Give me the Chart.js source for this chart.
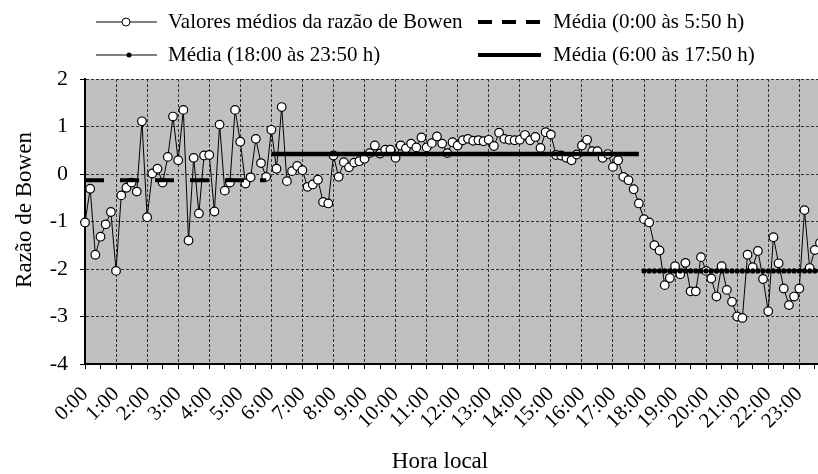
<!DOCTYPE html>
<html>
<head>
  <title>Razão de Bowen</title>
  <script src="https://cdn.jsdelivr.net/npm/chart.js"></script>
  <style>
    html, body {
      margin: 0;
      padding: 0;
      background: #fff;
      overflow: hidden;
    }

    #frame {
      width: 818px;
      height: 474px;
      overflow: hidden;
    }

    #wrap {
      width: 856px;
      height: 474px;
      position: relative;
    }
  </style>
</head>
<body>
  <div id="frame">
    <div id="wrap">
      <canvas id="bowenChart"></canvas>
    </div>
  </div>

  <script>
    // 10-minute steps, 0:00 .. 23:50
    const timeLabels = [];
    for (let h = 0; h < 24; h++) {
      for (let m = 0; m < 60; m += 10) {
        timeLabels.push(h + ":" + (m < 10 ? "0" + m : m));
      }
    }

    const bowenValues = [
      -1.02, -0.31, -1.70, -1.32, -1.06, -0.80, -2.04, -0.45, -0.29, -0.18, -0.37, 1.11,
      -0.91, 0.01, 0.11, -0.18, 0.36, 1.21, 0.29, 1.35, -1.40, 0.34, -0.83, 0.39,
      0.40, -0.79, 1.04, -0.35, -0.18, 1.35, 0.68, -0.20, -0.07, 0.74, 0.23, -0.06,
      0.93, 0.11, 1.41, -0.15, 0.06, 0.17, 0.08, -0.27, -0.22, -0.12, -0.59, -0.62,
      0.39, -0.06, 0.25, 0.14, 0.24, 0.27, 0.32, 0.44, 0.60, 0.43, 0.51, 0.51,
      0.34, 0.60, 0.54, 0.64, 0.56, 0.77, 0.56, 0.65, 0.79, 0.64, 0.44, 0.67,
      0.60, 0.71, 0.74, 0.70, 0.71, 0.69, 0.72, 0.59, 0.87, 0.74, 0.72, 0.71,
      0.72, 0.82, 0.71, 0.78, 0.55, 0.88, 0.83, 0.40, 0.39, 0.34, 0.29, 0.41,
      0.60, 0.72, 0.48, 0.48, 0.34, 0.42, 0.15, 0.29, -0.06, -0.13, -0.32, -0.62,
      -0.95, -1.02, -1.50, -1.61, -2.34, -2.19, -1.94, -2.11, -1.87, -2.47, -2.47, -1.75,
      -2.04, -2.20, -2.58, -1.94, -2.44, -2.69, -3.00, -3.03, -1.70, -1.96, -1.62, -2.21,
      -2.89, -1.33, -1.88, -2.41, -2.76, -2.58, -2.41, -0.76, -1.98, -1.60, -1.45, -1.40
    ];

    // period means
    const meanNight = -0.13;    // 0:00 - 5:50
    const meanDay = 0.42;       // 6:00 - 17:50
    const meanEvening = -2.04;  // 18:00 - 23:50

    const nightSeries = timeLabels.map((t, i) => i < 36 ? meanNight : null);
    const daySeries = timeLabels.map((t, i) => i >= 36 && i < 108 ? meanDay : null);
    const eveningSeries = timeLabels.map((t, i) => i >= 108 ? meanEvening : null);

    const FONT = "'Liberation Serif', 'Times New Roman', serif";

    const legendAndTitles = {
      id: "legendAndTitles",
      afterDraw(chart) {
        const ctx = chart.ctx;
        ctx.save();
        ctx.fillStyle = "#000";
        ctx.strokeStyle = "#000";
        ctx.font = "21px " + FONT;
        ctx.textBaseline = "middle";
        ctx.textAlign = "left";

        // row 1, col 1: data series
        ctx.lineWidth = 1;
        ctx.beginPath();
        ctx.moveTo(96, 22);
        ctx.lineTo(157, 22);
        ctx.stroke();
        ctx.beginPath();
        ctx.arc(126, 22, 4, 0, Math.PI * 2);
        ctx.fillStyle = "#fff";
        ctx.fill();
        ctx.stroke();
        ctx.fillStyle = "#000";
        ctx.fillText("Valores médios da razão de Bowen", 168, 22);

        // row 2, col 1: evening mean
        ctx.beginPath();
        ctx.moveTo(96, 55);
        ctx.lineTo(157, 55);
        ctx.stroke();
        ctx.beginPath();
        ctx.arc(129, 55, 2.5, 0, Math.PI * 2);
        ctx.fill();
        ctx.fillText("Média (18:00 às 23:50 h)", 168, 55);

        // row 1, col 2: night mean (dashed)
        ctx.lineWidth = 4;
        ctx.setLineDash([14, 10]);
        ctx.beginPath();
        ctx.moveTo(478, 22);
        ctx.lineTo(541, 22);
        ctx.stroke();
        ctx.setLineDash([]);
        ctx.fillText("Média (0:00 às 5:50 h)", 553, 22);

        // row 2, col 2: day mean (solid)
        ctx.beginPath();
        ctx.moveTo(478, 55);
        ctx.lineTo(541, 55);
        ctx.stroke();
        ctx.fillText("Média (6:00 às 17:50 h)", 553, 55);

        // axis titles
        ctx.font = "23px " + FONT;
        ctx.textAlign = "center";
        ctx.fillText("Hora local", 440, 462);
        ctx.translate(25, 210);
        ctx.rotate(-Math.PI / 2);
        ctx.fillText("Razão de Bowen", 0, 0);
        ctx.restore();
      }
    };

    const ctx = document.getElementById("bowenChart").getContext("2d");
    new Chart(ctx, {
      type: "line",
      data: {
        labels: timeLabels,
        datasets: [
          {
            label: "Média (0:00 às 5:50 h)",
            data: nightSeries,
            borderColor: "#000",
            borderWidth: 4,
            borderDash: [19, 16],
            borderCapStyle: "butt",
            pointRadius: 0,
            order: 0
          },
          {
            label: "Média (6:00 às 17:50 h)",
            data: daySeries,
            borderColor: "#000",
            borderWidth: 4.5,
            borderCapStyle: "butt",
            pointRadius: 0,
            order: 0
          },
          {
            label: "Média (18:00 às 23:50 h)",
            data: eveningSeries,
            borderColor: "#000",
            borderWidth: 1,
            pointRadius: 2.6,
            pointBackgroundColor: "#000",
            pointBorderWidth: 0,
            order: 0
          },
          {
            label: "Valores médios da razão de Bowen",
            data: bowenValues,
            borderColor: "#000",
            borderWidth: 1,
            pointRadius: 4.3,
            pointBackgroundColor: "#fff",
            pointBorderColor: "#000",
            pointBorderWidth: 1.2,
            order: 1
          }
        ]
      },
      options: {
        responsive: true,
        maintainAspectRatio: false,
        animation: false,
        layout: {
          padding: { top: 79, right: 8, bottom: 0, left: 0 }
        },
        plugins: {
          legend: { display: false },
          tooltip: { enabled: false }
        },
        scales: {
          x: {
            offset: false,
            afterFit(scale) {
              scale.height = 110;
            },
            grid: {
              color: c => c.index % 6 === 0 && c.index > 0 ? "#333" : "transparent",
              tickColor: c => c.index % 3 === 0 ? "#000" : "transparent",
              tickLength: 5,
              lineWidth: 1
            },
            border: { color: "#000", width: 2, dash: [3, 2] },
            ticks: {
              autoSkip: false,
              minRotation: 45,
              maxRotation: 45,
              padding: 13,
              color: "#000",
              font: { family: FONT, size: 21 },
              callback(value, index) {
                return index % 6 === 0 ? this.getLabelForValue(value) : "";
              }
            }
          },
          y: {
            min: -4,
            max: 2,
            afterFit(scale) {
              scale.width = 85;
            },
            grid: {
              color: c => Number.isInteger(c.tick.value) ? "#333" : "transparent",
              tickColor: "#000",
              tickLength: 5,
              lineWidth: 1
            },
            border: { color: "#000", width: 2, dash: [3, 2] },
            ticks: {
              stepSize: 0.5,
              padding: 12,
              color: "#000",
              font: { family: FONT, size: 22 },
              callback(value) {
                return Number.isInteger(value) ? String(value) : "";
              }
            }
          }
        }
      },
      plugins: [
        {
          id: "plotBackground",
          beforeDraw(chart) {
            const a = chart.chartArea;
            chart.ctx.save();
            chart.ctx.fillStyle = "#c0c0c0";
            chart.ctx.fillRect(a.left, a.top, a.right - a.left, a.bottom - a.top);
            chart.ctx.restore();
          }
        },
        legendAndTitles
      ]
    });
  </script>
</body>
</html>
